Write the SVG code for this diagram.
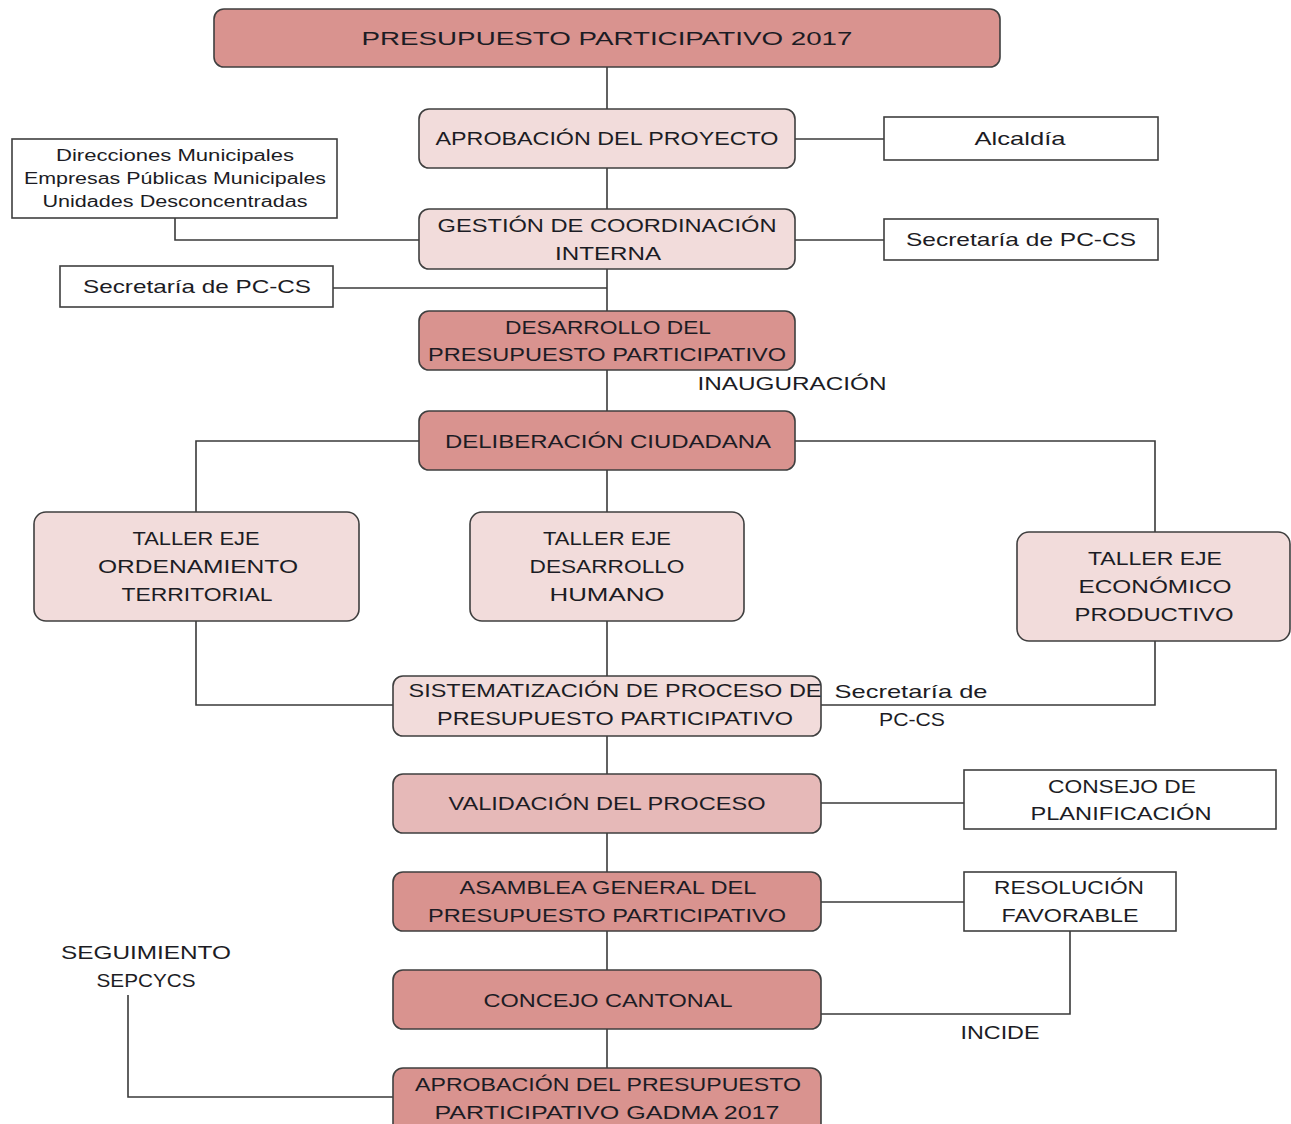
<svg xmlns="http://www.w3.org/2000/svg" width="1291" height="1124" viewBox="0 0 1291 1124">
<style>
.n{stroke:#3f3f3f;stroke-width:1.6}
.d{fill:#d9938f}
.l{fill:#f2dcdb}
.m{fill:#e6b9b8}
.w{fill:#ffffff;stroke:#3f3f3f;stroke-width:1.6}
text{font-family:"Liberation Sans",Arial,sans-serif;fill:#1c1c24;text-anchor:middle;dominant-baseline:central;font-size:19px}
.s{font-size:16px}
.c{fill:none;stroke:#3a3a3a;stroke-width:1.6}
</style>
<rect width="1291" height="1124" fill="#ffffff"/>
<g id="connectors">
<line class="c" x1="607" y1="67" x2="607" y2="1070"/>
<polyline class="c" points="795,139 884,139"/>
<polyline class="c" points="175,218 175,240 419,240"/>
<polyline class="c" points="795,240 884,240"/>
<polyline class="c" points="333,288 607,288"/>
<polyline class="c" points="419,441 196,441 196,512"/>
<polyline class="c" points="795,441 1155,441 1155,532"/>
<polyline class="c" points="196,621 196,705 393,705"/>
<polyline class="c" points="1155,641 1155,705 821,705"/>
<polyline class="c" points="821,803 964,803"/>
<polyline class="c" points="821,902 964,902"/>
<polyline class="c" points="821,1014 1070,1014 1070,931"/>
<polyline class="c" points="128,995 128,1097 393,1097"/>
</g>
<g id="n-title"><rect class="n d" x="214" y="9" width="786" height="58" rx="10"/><text x="607" y="38" font-size="24" textLength="491" lengthAdjust="spacingAndGlyphs">PRESUPUESTO PARTICIPATIVO 2017</text></g>
<g id="n-aprobacion"><rect class="n l" x="419" y="109" width="376" height="59" rx="10"/><text x="607" y="138" textLength="343" lengthAdjust="spacingAndGlyphs">APROBACIÓN DEL PROYECTO</text></g>
<g id="n-alcaldia"><rect class="w" x="884" y="117" width="274" height="43"/><text x="1020" y="138" textLength="91" lengthAdjust="spacingAndGlyphs">Alcaldía</text></g>
<g id="n-direcciones"><rect class="w" x="12" y="139" width="325" height="79"/><text class="s" x="175" y="155" textLength="238" lengthAdjust="spacingAndGlyphs">Direcciones Municipales</text><text class="s" x="175" y="178" textLength="302" lengthAdjust="spacingAndGlyphs">Empresas Públicas Municipales</text><text class="s" x="175" y="201" textLength="265" lengthAdjust="spacingAndGlyphs">Unidades Desconcentradas</text></g>
<g id="n-gestion"><rect class="n l" x="419" y="209" width="376" height="60" rx="10"/><text x="607" y="225" textLength="339" lengthAdjust="spacingAndGlyphs">GESTIÓN DE COORDINACIÓN</text><text x="608" y="253" textLength="106" lengthAdjust="spacingAndGlyphs">INTERNA</text></g>
<g id="n-secretaria-r"><rect class="w" x="884" y="219" width="274" height="41"/><text x="1021" y="239" textLength="230" lengthAdjust="spacingAndGlyphs">Secretaría de PC-CS</text></g>
<g id="n-secretaria-l"><rect class="w" x="60" y="266" width="273" height="41"/><text x="197" y="286" textLength="228" lengthAdjust="spacingAndGlyphs">Secretaría de PC-CS</text></g>
<g id="n-desarrollo"><rect class="n d" x="419" y="311" width="376" height="59" rx="10"/><text x="608" y="327" textLength="206" lengthAdjust="spacingAndGlyphs">DESARROLLO DEL</text><text x="607" y="354" textLength="358" lengthAdjust="spacingAndGlyphs">PRESUPUESTO PARTICIPATIVO</text></g>
<g id="n-inauguracion"><text x="792" y="383" textLength="189" lengthAdjust="spacingAndGlyphs">INAUGURACIÓN</text></g>
<g id="n-deliberacion"><rect class="n d" x="419" y="411" width="376" height="59" rx="10"/><text x="608" y="441" textLength="326" lengthAdjust="spacingAndGlyphs">DELIBERACIÓN CIUDADANA</text></g>
<g id="n-taller-ot"><rect class="n l" x="34" y="512" width="325" height="109" rx="12"/><text x="196" y="538" textLength="127" lengthAdjust="spacingAndGlyphs">TALLER EJE</text><text x="198" y="566" textLength="200" lengthAdjust="spacingAndGlyphs">ORDENAMIENTO</text><text x="197" y="594" textLength="151" lengthAdjust="spacingAndGlyphs">TERRITORIAL</text></g>
<g id="n-taller-dh"><rect class="n l" x="470" y="512" width="274" height="109" rx="12"/><text x="607" y="538" textLength="128" lengthAdjust="spacingAndGlyphs">TALLER EJE</text><text x="607" y="566" textLength="155" lengthAdjust="spacingAndGlyphs">DESARROLLO</text><text x="607" y="594" textLength="115" lengthAdjust="spacingAndGlyphs">HUMANO</text></g>
<g id="n-taller-ep"><rect class="n l" x="1017" y="532" width="273" height="109" rx="12"/><text x="1155" y="558" textLength="134" lengthAdjust="spacingAndGlyphs">TALLER  EJE</text><text x="1155" y="586" textLength="153" lengthAdjust="spacingAndGlyphs">ECONÓMICO</text><text x="1154" y="614" textLength="159" lengthAdjust="spacingAndGlyphs">PRODUCTIVO</text></g>
<g id="n-sistematizacion"><rect class="n l" x="393" y="676" width="428" height="60" rx="10"/><text x="615" y="690" textLength="413" lengthAdjust="spacingAndGlyphs">SISTEMATIZACIÓN DE PROCESO DE</text><text x="615" y="718" textLength="356" lengthAdjust="spacingAndGlyphs">PRESUPUESTO PARTICIPATIVO</text></g>
<g id="n-secretaria-label"><text x="911" y="691" textLength="153" lengthAdjust="spacingAndGlyphs">Secretaría de</text><text x="912" y="719" textLength="66" lengthAdjust="spacingAndGlyphs">PC-CS</text></g>
<g id="n-validacion"><rect class="n m" x="393" y="774" width="428" height="59" rx="10"/><text x="607" y="803" textLength="317" lengthAdjust="spacingAndGlyphs">VALIDACIÓN DEL PROCESO</text></g>
<g id="n-consejo"><rect class="w" x="964" y="770" width="312" height="59"/><text x="1122" y="786" textLength="148" lengthAdjust="spacingAndGlyphs">CONSEJO DE</text><text x="1121" y="813" textLength="181" lengthAdjust="spacingAndGlyphs">PLANIFICACIÓN</text></g>
<g id="n-asamblea"><rect class="n d" x="393" y="872" width="428" height="59" rx="10"/><text x="608" y="887" textLength="297" lengthAdjust="spacingAndGlyphs">ASAMBLEA GENERAL DEL</text><text x="607" y="915" textLength="358" lengthAdjust="spacingAndGlyphs">PRESUPUESTO PARTICIPATIVO</text></g>
<g id="n-resolucion"><rect class="w" x="964" y="872" width="212" height="59"/><text x="1069" y="887" textLength="150" lengthAdjust="spacingAndGlyphs">RESOLUCIÓN</text><text x="1070" y="915" textLength="137" lengthAdjust="spacingAndGlyphs">FAVORABLE</text></g>
<g id="n-seguimiento"><text x="146" y="952" textLength="170" lengthAdjust="spacingAndGlyphs">SEGUIMIENTO</text><text x="146" y="980" textLength="99" lengthAdjust="spacingAndGlyphs">SEPCYCS</text></g>
<g id="n-concejo"><rect class="n d" x="393" y="970" width="428" height="59" rx="10"/><text x="608" y="1000" textLength="249" lengthAdjust="spacingAndGlyphs">CONCEJO CANTONAL</text></g>
<g id="n-incide"><text x="1000" y="1032" textLength="79" lengthAdjust="spacingAndGlyphs">INCIDE</text></g>
<g id="n-aprobacion-final"><rect class="n d" x="393" y="1068" width="428" height="70" rx="10"/><text x="608" y="1084" textLength="386" lengthAdjust="spacingAndGlyphs">APROBACIÓN DEL PRESUPUESTO</text><text x="607" y="1112" textLength="345" lengthAdjust="spacingAndGlyphs">PARTICIPATIVO GADMA 2017</text></g>
</svg>
